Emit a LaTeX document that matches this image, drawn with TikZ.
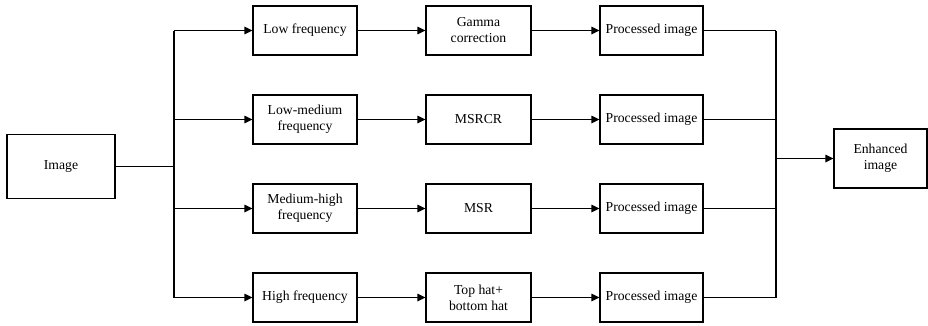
\documentclass[tikz,border=0pt]{standalone}
\usepackage{fontspec}
\setmainfont{Liberation Serif}
\usetikzlibrary{arrows.meta}

\tikzset{
	box/.style={draw, align=center, inner sep=0pt, minimum height=49pt},
	flow/.style={-{Triangle[length=8pt, width=7.5pt]}},
}

\begin{document}
\begin{tikzpicture}[x=1pt, y=1pt, line width=1.2pt, font=\rmfamily\fontsize{13.7}{16}\selectfont]
	\useasboundingbox (0,0) rectangle (928,325);
	\node [box, minimum width=108pt, minimum height=64pt] (img) at (61,158.5) {Image};
	\node [box, minimum width=93pt, minimum height=59pt] (enh) at (880.5,166.5) {Enhanced\\image};
	\coordinate (split) at (174,158.5);
	\coordinate (merge) at (776,166.5);
	\foreach \band/\method [count=\i] in {{Low frequency}/{Gamma\\correction}, {Low-medium\\frequency}/{MSRCR}, {Medium-high\\frequency}/{MSR}, {High frequency}/{Top hat+\\bottom hat}} {
		\node [box, minimum width=104pt] (band\i) at (305, 294.5-89*\i+89) {\band};
		\node [box, minimum width=105pt] (meth\i) at (478.5, 294.5-89*\i+89) {\method};
		\node [box, minimum width=103pt] (proc\i) at (651.5, 294.5-89*\i+89) {Processed image};
		\draw [flow] (split |- band\i) -- (band\i.west);
		\draw [flow] (band\i) -- (meth\i);
		\draw [flow] (meth\i) -- (proc\i);
		\draw (proc\i.east) -- (merge |- proc\i);
	}
	\draw (img.east) -- (split);
	\draw (split |- band1) -- (split |- band4);
	\draw (merge |- proc1) -- (merge |- proc4);
	\draw [flow] (merge) -- (enh.west);
\end{tikzpicture}
\end{document}
